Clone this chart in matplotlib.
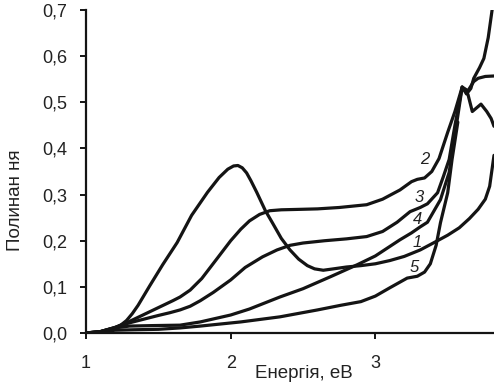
import matplotlib
matplotlib.use("Agg")
import matplotlib.pyplot as plt

plt.rcParams['font.family'] = ['Liberation Sans', 'DejaVu Sans']

# Curve 1 (absorption peak near 2 eV)
x1 = [1.00, 1.10, 1.20, 1.24, 1.28, 1.32, 1.36, 1.44, 1.53, 1.63, 1.73, 1.84, 1.92, 1.98,
      2.02, 2.05, 2.08, 2.11, 2.14, 2.18, 2.24, 2.29, 2.35, 2.41, 2.47, 2.53, 2.58, 2.64,
      2.71, 2.80, 2.90, 3.00, 3.10, 3.20, 3.31, 3.40, 3.50, 3.58, 3.65, 3.71, 3.76, 3.79,
      3.82]
y1 = [0.000, 0.003, 0.011, 0.017, 0.027, 0.042, 0.060, 0.102, 0.148, 0.196, 0.255, 0.305,
      0.337, 0.355, 0.362, 0.363, 0.358, 0.347, 0.330, 0.305, 0.265, 0.238, 0.205, 0.180,
      0.160, 0.146, 0.139, 0.136, 0.139, 0.143, 0.146, 0.150, 0.157, 0.166, 0.180, 0.195,
      0.212, 0.228, 0.248, 0.268, 0.290, 0.318, 0.385]

# Curve 2
x2 = [1.00, 1.10, 1.20, 1.30, 1.40, 1.50, 1.60, 1.65, 1.72, 1.80, 1.91, 2.00, 2.07, 2.13,
      2.20, 2.27, 2.35, 2.48, 2.60, 2.75, 2.94, 3.05, 3.17, 3.25, 3.29, 3.34, 3.39, 3.44,
      3.50, 3.55, 3.60, 3.63, 3.66, 3.68, 3.72, 3.75, 3.78, 3.81]
y2 = [0.000, 0.003, 0.012, 0.025, 0.040, 0.055, 0.070, 0.078, 0.093, 0.118, 0.163, 0.200,
      0.225, 0.243, 0.257, 0.265, 0.267, 0.268, 0.269, 0.272, 0.278, 0.290, 0.310, 0.328,
      0.333, 0.336, 0.350, 0.378, 0.435, 0.480, 0.533, 0.518, 0.530, 0.552, 0.575, 0.595,
      0.640, 0.707]

# Curve 3
x3 = [1.00, 1.10, 1.20, 1.30, 1.40, 1.50, 1.58, 1.65, 1.72, 1.79, 1.88, 2.00, 2.10, 2.22,
      2.32, 2.41, 2.50, 2.65, 2.80, 2.94, 3.05, 3.15, 3.24, 3.31, 3.36, 3.43, 3.47, 3.51,
      3.55, 3.60, 3.64, 3.68, 3.71, 3.76, 3.82]
y3 = [0.000, 0.003, 0.012, 0.022, 0.030, 0.038, 0.044, 0.050, 0.058, 0.070, 0.088, 0.115,
      0.142, 0.165, 0.180, 0.190, 0.195, 0.200, 0.204, 0.209, 0.220, 0.240, 0.263, 0.272,
      0.280, 0.304, 0.339, 0.376, 0.450, 0.533, 0.525, 0.545, 0.552, 0.556, 0.557]

# Curve 4
x4 = [1.00, 1.10, 1.20, 1.30, 1.45, 1.65, 1.79, 2.00, 2.13, 2.34, 2.50, 2.69, 2.875, 3.00,
      3.17, 3.25, 3.31, 3.36, 3.45, 3.51, 3.56, 3.60, 3.64, 3.67, 3.70, 3.73, 3.77, 3.80, 3.82]
y4 = [0.000, 0.003, 0.011, 0.015, 0.016, 0.017, 0.024, 0.039, 0.052, 0.078, 0.096, 0.122,
      0.148, 0.167, 0.202, 0.217, 0.230, 0.240, 0.289, 0.348, 0.450, 0.533, 0.517, 0.480,
      0.488, 0.496, 0.480, 0.465, 0.448]

# Curve 5
x5 = [1.00, 1.10, 1.20, 1.33, 1.50, 1.65, 1.79, 2.07, 2.34, 2.60, 2.76, 2.90, 3.00, 3.10,
      3.18, 3.22, 3.29, 3.34, 3.38, 3.42, 3.45, 3.50, 3.53, 3.57]
y5 = [0.000, 0.002, 0.006, 0.007, 0.008, 0.011, 0.015, 0.024, 0.035, 0.050, 0.060, 0.068,
      0.080, 0.098, 0.112, 0.119, 0.123, 0.132, 0.150, 0.190, 0.239, 0.304, 0.376, 0.457]

curve_labels = ['2', '3', '4', '1', '5']
label_x = [3.34, 3.30, 3.29, 3.29, 3.27]
label_y = [0.376, 0.293, 0.246, 0.196, 0.141]

xticks = [1, 2, 3]
xtick_labels = ['1', '2', '3']
yticks = [0.0, 0.1, 0.2, 0.3, 0.4, 0.5, 0.6, 0.7]
ytick_labels = ['0,0', '0,1', '0,2', '0,3', '0,4', '0,5', '0,6', '0,7']

fig = plt.figure(figsize=(4.94, 3.87), dpi=100)
ax = fig.add_axes([86/494, 54/387, 408/494, 323/387])

lc = '#141414'
for xs, ys in [(x1, y1), (x2, y2), (x3, y3), (x4, y4), (x5, y5)]:
    ax.plot(xs, ys, color=lc, lw=2.3, solid_joinstyle='round', solid_capstyle='round')

for t, lx, ly in zip(curve_labels, label_x, label_y):
    ax.text(lx, ly, t, fontsize=12, style='italic', ha='center', va='center', color='#222222')

ax.set_xlim(1, 3.82)
ax.set_ylim(0, 0.7)
ax.set_xticks(xticks)
ax.set_xticklabels(xtick_labels)
ax.set_yticks(yticks)
ax.set_yticklabels(ytick_labels)
for s in ['top', 'right']:
    ax.spines[s].set_visible(False)
for s in ['left', 'bottom']:
    ax.spines[s].set_linewidth(1.6)
    ax.spines[s].set_color(lc)
ax.tick_params(axis='both', direction='out', length=4.5, width=1.4, color=lc,
               labelsize=13, labelcolor='#222222')
ax.tick_params(axis='y', pad=9)
ax.tick_params(axis='x', pad=11)

fig.text(304/494, 1 - 374/387, 'Енергія, eВ', fontsize=13.5, ha='center', va='center', color='#222222')
fig.text(16/494, 1 - 200/387, 'Полинан ня', fontsize=13.5, rotation=90, ha='center', va='center', color='#222222')

fig.savefig('out.png', dpi=100)
